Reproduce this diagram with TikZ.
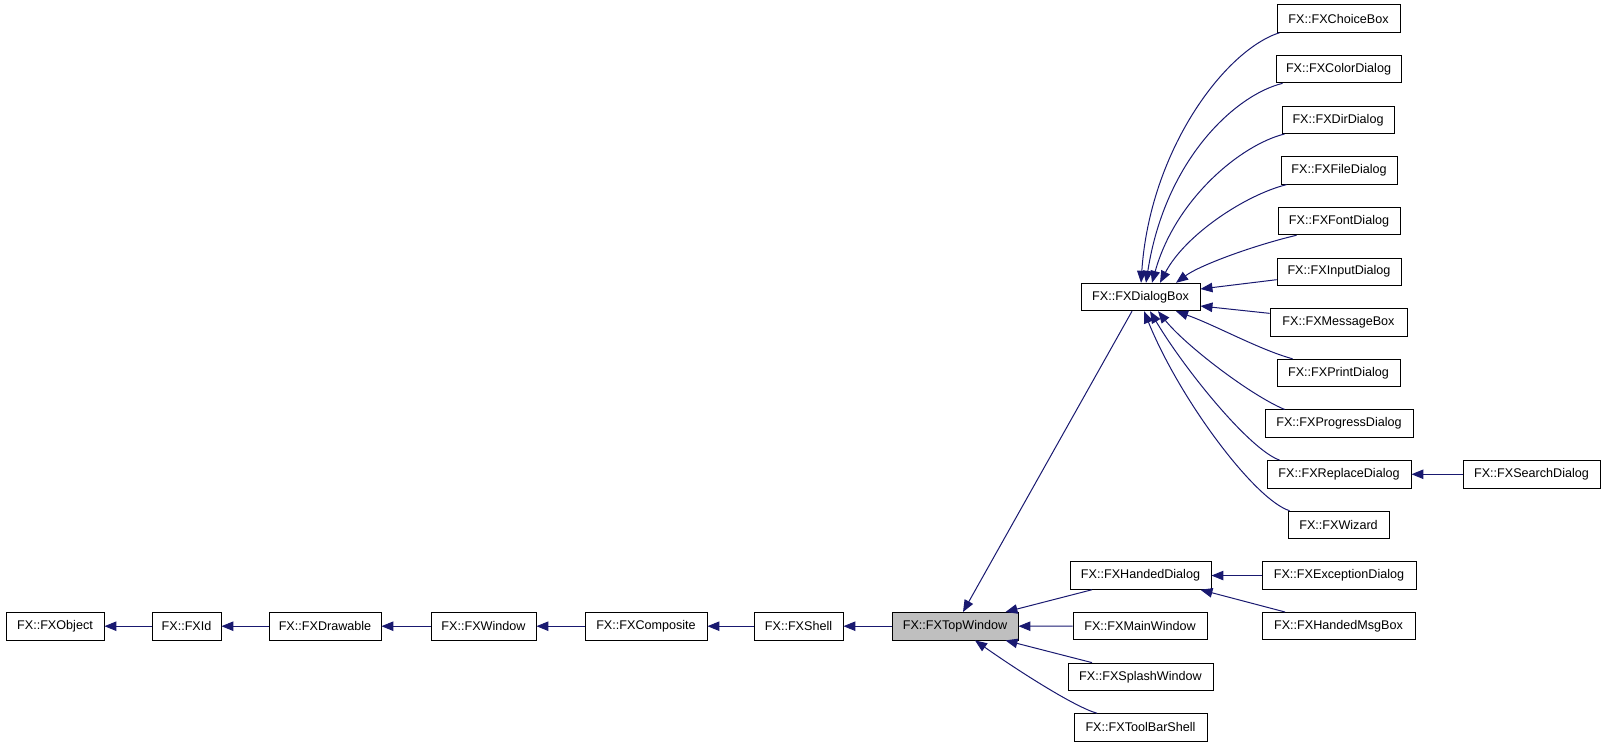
\documentclass[tikz,border=0pt]{standalone}
\usepackage{fontspec}
\setmainfont{Liberation Sans}
\usetikzlibrary{arrows.meta}
\definecolor{edgeblue}{HTML}{191970}
\definecolor{topgray}{HTML}{BFBFBF}
\begin{document}
\begin{tikzpicture}[x=1pt,y=-1pt,
  cls/.style={draw=black, line width=0.9pt, fill=white, inner sep=0pt,
    minimum height=27.5pt, font=\fontsize{12.6pt}{14pt}\selectfont},
  inh/.style={draw=edgeblue, line width=1pt,
    -{Triangle[length=12pt,width=9.5pt,fill=edgeblue]}}]
\useasboundingbox (0,0) rectangle (1605,747);
% chain
\node[cls, minimum width=98pt]  (obj)   at (55,626.2)    {FX::FXObject};
\node[cls, minimum width=69pt]  (fxid)  at (186.5,626.2) {FX::FXId};
\node[cls, minimum width=112pt] (drw)   at (325,626.2)   {FX::FXDrawable};
\node[cls, minimum width=105pt] (win)   at (483.5,626.2) {FX::FXWindow};
\node[cls, minimum width=122pt] (comp)  at (646,626.2)   {FX::FXComposite};
\node[cls, minimum width=89pt]  (shell) at (798.5,626.2) {FX::FXShell};
\node[cls, minimum width=126pt, fill=topgray] (top) at (955,626.2) {FX::FXTopWindow};
% middle column
\node[cls, minimum width=119pt] (dbox)    at (1140.5,297)    {FX::FXDialogBox};
\node[cls, minimum width=141pt] (handed)  at (1140.5,575.54) {FX::FXHandedDialog};
\node[cls, minimum width=134pt] (mainw)   at (1140,626.18)   {FX::FXMainWindow};
\node[cls, minimum width=145pt] (splash)  at (1140.5,676.82) {FX::FXSplashWindow};
\node[cls, minimum width=133pt] (toolbar) at (1140.5,727.46) {FX::FXToolBarShell};
% right column
\node[cls, minimum width=123pt] (choice) at (1338.5,18.5)   {FX::FXChoiceBox};
\node[cls, minimum width=125pt] (color)  at (1338.5,69.14)  {FX::FXColorDialog};
\node[cls, minimum width=112pt] (dir)    at (1338,119.78)   {FX::FXDirDialog};
\node[cls, minimum width=116pt] (file)   at (1339,170.42)   {FX::FXFileDialog};
\node[cls, minimum width=122pt] (font)   at (1339,221.06)   {FX::FXFontDialog};
\node[cls, minimum width=124pt] (input)  at (1339,271.7)    {FX::FXInputDialog};
\node[cls, minimum width=137pt] (msg)    at (1338.5,322.34) {FX::FXMessageBox};
\node[cls, minimum width=123pt] (print)  at (1338.5,372.98) {FX::FXPrintDialog};
\node[cls, minimum width=148pt] (prog)   at (1339,423.62)   {FX::FXProgressDialog};
\node[cls, minimum width=144pt] (repl)   at (1339,474.26)   {FX::FXReplaceDialog};
\node[cls, minimum width=137pt] (search) at (1531.5,474.26) {FX::FXSearchDialog};
\node[cls, minimum width=101pt] (wiz)    at (1338.5,524.9)  {FX::FXWizard};
\node[cls, minimum width=154pt] (exc)    at (1339,575.54)   {FX::FXExceptionDialog};
\node[cls, minimum width=153pt] (hmsg)   at (1338.5,626.18) {FX::FXHandedMsgBox};
% chain edges
\draw[inh] (fxid.west) -- (obj.east);
\draw[inh] (drw.west) -- (fxid.east);
\draw[inh] (win.west) -- (drw.east);
\draw[inh] (comp.west) -- (win.east);
\draw[inh] (shell.west) -- (comp.east);
\draw[inh] (top.west) -- (shell.east);
% into TopWindow
\draw[inh] ([xshift=-8.5pt]dbox.south) -- ([xshift=8pt]top.north);
\draw[inh] ([xshift=-48.5pt]handed.south) -- ([xshift=-13pt]top.north east);
\draw[inh] (mainw.west) -- (top.east);
\draw[inh] ([xshift=-48.5pt]splash.north) -- ([xshift=-13pt]top.south east);
\draw[inh] ([xshift=-43.5pt]toolbar.north) .. controls (1075,707) and (1020,672) .. ([xshift=20pt]top.south);
% into HandedDialog
\draw[inh] (exc.west) -- (handed.east);
\draw[inh] ([xshift=-53.5pt]hmsg.north) -- ([xshift=-11pt]handed.south east);
% into ReplaceDialog
\draw[inh] (search.west) -- (repl.east);
% into DialogBox
\draw[inh] ([xshift=3pt]choice.south west) .. controls (1225,50) and (1150,150) .. ([xshift=0.5pt]dbox.north);
\draw[inh] ([xshift=7pt]color.south west) .. controls (1235,95) and (1165,160) .. ([xshift=5.5pt]dbox.north);
\draw[inh] ([xshift=3pt]dir.south west) .. controls (1240,145) and (1175,200) .. ([xshift=11.5pt]dbox.north);
\draw[inh] ([xshift=6pt]file.south west) .. controls (1245,195) and (1185,235) .. ([xshift=19.5pt]dbox.north);
\draw[inh] ([xshift=19pt]font.south west) .. controls (1255,245) and (1200,265) .. ([xshift=35.5pt]dbox.north);
\draw[inh] ([yshift=-8pt]input.west) -- ([yshift=8pt]dbox.east);
\draw[inh] ([yshift=9pt]msg.west) -- ([yshift=-9pt]dbox.east);
\draw[inh] ([xshift=16pt]print.north west) .. controls (1260,350) and (1215,325) .. ([xshift=35.5pt]dbox.south);
\draw[inh] ([xshift=20pt]prog.north west) .. controls (1250,395) and (1185,345) .. ([xshift=17.5pt]dbox.south);
\draw[inh] ([xshift=13pt]repl.north west) .. controls (1250,450) and (1185,370) .. ([xshift=9.5pt]dbox.south);
\draw[inh] ([xshift=2pt]wiz.north west) .. controls (1255,500) and (1180,400) .. ([xshift=3.5pt]dbox.south);
\end{tikzpicture}
\end{document}
